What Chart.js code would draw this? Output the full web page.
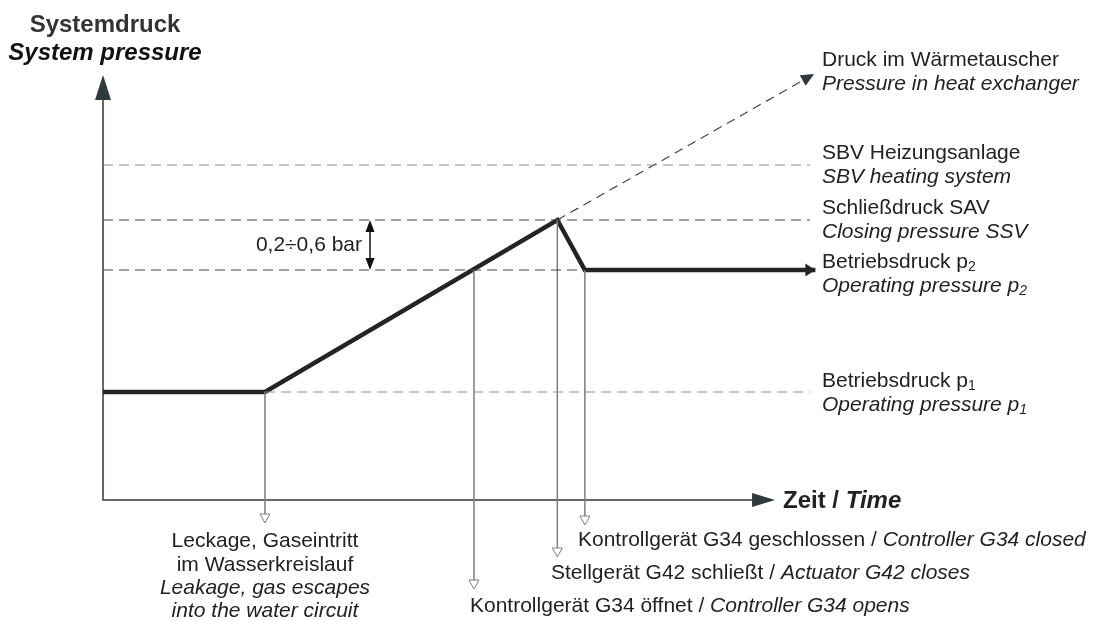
<!DOCTYPE html>
<html>
<head>
<meta charset="utf-8">
<script src="https://cdn.jsdelivr.net/npm/chart.js@4"></script>
<style>
  html, body { margin: 0; padding: 0; background: #fff; }
  canvas { display: block; }
</style>
</head>
<body>
<canvas id="chart" width="1101" height="621"></canvas>
<script>
// schematic values: time in arbitrary units, pressure in arbitrary units
const levelNames = ['SBV', 'Closing', 'p2', 'p1'];
const levelValues = [3.35, 2.8, 2.3, 1.08];
const levelStart = [0, 0, 0, 24.1];
const levelEnd = [105.2, 105.2, 71.7, 105.2];
const levelColors = ['#8c9296', '#3b474e', '#3b474e', '#8c9296'];

const curveTime = [0, 24.1, 67.6, 71.7, 106];
const curvePressure = [1.08, 1.08, 2.8, 2.3, 2.3];

const exchangerTime = [67.6, 105.8];
const exchangerPressure = [2.8, 4.26];

const eventTime = [24.1, 55.2, 67.6, 71.7];
const eventPressure = [1.08, 2.3, 2.8, 2.3];
const eventMarker = [-0.14, -0.8, -0.48, -0.16];

const axisTimeEnd = 100;
const axisPressureEnd = 4.25;

const FONT = '"Liberation Sans", Arial, sans-serif';

const pts = (xs, ys) => xs.map((x, i) => ({ x: x, y: ys[i] }));

const datasets = [];
levelNames.forEach((name, i) => {
    datasets.push({
        label: name,
        data: [{ x: levelStart[i], y: levelValues[i] }, { x: levelEnd[i], y: levelValues[i] }],
        borderColor: levelColors[i],
        borderWidth: 1.2,
        borderDash: [10, 6]
    });
});
datasets.push({
    label: 'exchanger',
    data: pts(exchangerTime, exchangerPressure),
    borderColor: '#3b474e',
    borderWidth: 1.2,
    borderDash: [9, 6]
});
eventTime.forEach((t, i) => {
    datasets.push({
        label: 'event' + i,
        data: [{ x: t, y: eventPressure[i] }, { x: t, y: eventMarker[i] }],
        borderColor: '#7d7d7d',
        borderWidth: 1.5
    });
});
datasets.push({
    label: 'pressure',
    data: pts(curveTime, curvePressure),
    borderColor: '#222526',
    borderWidth: 4.5,
    borderJoinStyle: 'miter'
});
datasets.forEach(d => { d.showLine = true; d.pointRadius = 0; d.fill = false; });

// draw text made of segments (normal, italic, subscript)
function richText(ctx, x, y, segs, align) {
    let total = 0;
    segs.forEach(s => { ctx.font = s.font; total += ctx.measureText(s.text).width; });
    let cx = align === 'center' ? x - total / 2 : (align === 'right' ? x - total : x);
    ctx.textAlign = 'left';
    ctx.textBaseline = 'middle';
    segs.forEach(s => {
        ctx.font = s.font;
        ctx.fillStyle = s.color || '#222';
        ctx.fillText(s.text, cx, y + (s.dy || 0));
        cx += ctx.measureText(s.text).width;
    });
}

const N = '21px ' + FONT;
const I = 'italic 21px ' + FONT;
const SUB = '14px ' + FONT;
const ISUB = 'italic 14px ' + FONT;

function arrowHead(ctx, tipX, tipY, angle, len, half, color) {
    ctx.save();
    ctx.translate(tipX, tipY);
    ctx.rotate(angle);
    ctx.beginPath();
    ctx.moveTo(0, 0);
    ctx.lineTo(-len, -half);
    ctx.lineTo(-len, half);
    ctx.closePath();
    ctx.fillStyle = color;
    ctx.fill();
    ctx.restore();
}

const diagram = {
    id: 'diagram',
    beforeDatasetsDraw(chart) {
        const ctx = chart.ctx;
        const xs = chart.scales.x, ys = chart.scales.y;
        const ox = xs.getPixelForValue(0), oy = ys.getPixelForValue(0);
        const xEnd = xs.getPixelForValue(axisTimeEnd), yEnd = ys.getPixelForValue(axisPressureEnd);
        ctx.save();
        ctx.strokeStyle = '#2f3a3f';
        ctx.lineWidth = 1.5;
        ctx.beginPath();
        ctx.moveTo(ox, yEnd + 10);
        ctx.lineTo(ox, oy);
        ctx.lineTo(xEnd - 10, oy);
        ctx.stroke();
        arrowHead(ctx, ox, yEnd, -Math.PI / 2, 25, 8, '#2f3a3f');
        arrowHead(ctx, xEnd, oy, 0, 23, 7, '#2f3a3f');
        ctx.restore();
    },
    afterDatasetsDraw(chart) {
        const ctx = chart.ctx;
        const xs = chart.scales.x, ys = chart.scales.y;
        ctx.save();

        // arrow at end of operating pressure line
        const n = curveTime.length - 1;
        arrowHead(ctx, xs.getPixelForValue(curveTime[n]), ys.getPixelForValue(curvePressure[n]), 0, 10, 6.5, '#222526');

        // arrow at end of heat exchanger line
        const ax = xs.getPixelForValue(exchangerTime[0]), ay = ys.getPixelForValue(exchangerPressure[0]);
        const bx = xs.getPixelForValue(exchangerTime[1]), by = ys.getPixelForValue(exchangerPressure[1]);
        arrowHead(ctx, bx, by, Math.atan2(by - ay, bx - ax), 13, 6, '#2f3a3f');

        // open triangles below the event lines
        eventTime.forEach((t, i) => {
            const x = xs.getPixelForValue(t), y = ys.getPixelForValue(eventMarker[i]);
            ctx.beginPath();
            ctx.moveTo(x - 5, y);
            ctx.lineTo(x + 5, y);
            ctx.lineTo(x, y + 9);
            ctx.closePath();
            ctx.fillStyle = '#fff';
            ctx.fill();
            ctx.strokeStyle = '#7d7d7d';
            ctx.lineWidth = 1;
            ctx.stroke();
        });

        // double arrow between p2 and closing pressure
        const dx = 370;
        const y1 = ys.getPixelForValue(levelValues[1]), y2 = ys.getPixelForValue(levelValues[2]);
        ctx.strokeStyle = '#111';
        ctx.lineWidth = 1.5;
        ctx.beginPath();
        ctx.moveTo(dx, y1 + 6);
        ctx.lineTo(dx, y2 - 6);
        ctx.stroke();
        arrowHead(ctx, dx, y1, -Math.PI / 2, 12, 4.5, '#111');
        arrowHead(ctx, dx, y2, Math.PI / 2, 12, 4.5, '#111');
        richText(ctx, 362, (y1 + y2) / 2, [{ text: '0,2÷0,6 bar', font: N }], 'right');

        // titles
        richText(ctx, 105, 25, [{ text: 'Systemdruck', font: 'bold 24px ' + FONT, color: '#333' }], 'center');
        richText(ctx, 105, 53, [{ text: 'System pressure', font: 'italic bold 24px ' + FONT, color: '#111' }], 'center');
        richText(ctx, 783, 501, [
            { text: 'Zeit / ', font: 'bold 24px ' + FONT, color: '#222' },
            { text: 'Time', font: 'italic bold 24px ' + FONT, color: '#222' }
        ], 'left');

        // right side labels
        const rx = 822;
        richText(ctx, rx, 60, [{ text: 'Druck im Wärmetauscher', font: N }]);
        richText(ctx, rx, 84, [{ text: 'Pressure in heat exchanger', font: I }]);
        richText(ctx, rx, 153, [{ text: 'SBV Heizungsanlage', font: N }]);
        richText(ctx, rx, 177, [{ text: 'SBV heating system', font: I }]);
        richText(ctx, rx, 208, [{ text: 'Schließdruck SAV', font: N }]);
        richText(ctx, rx, 232, [{ text: 'Closing pressure SSV', font: I }]);
        richText(ctx, rx, 262, [{ text: 'Betriebsdruck p', font: N }, { text: '2', font: SUB, dy: 5 }]);
        richText(ctx, rx, 286, [{ text: 'Operating pressure p', font: I }, { text: '2', font: ISUB, dy: 5 }]);
        richText(ctx, rx, 381, [{ text: 'Betriebsdruck p', font: N }, { text: '1', font: SUB, dy: 5 }]);
        richText(ctx, rx, 405, [{ text: 'Operating pressure p', font: I }, { text: '1', font: ISUB, dy: 5 }]);

        // event labels
        const lx = xs.getPixelForValue(eventTime[0]);
        richText(ctx, lx, 541, [{ text: 'Leckage, Gaseintritt', font: N }], 'center');
        richText(ctx, lx, 565, [{ text: 'im Wasserkreislauf', font: N }], 'center');
        richText(ctx, lx, 588, [{ text: 'Leakage, gas escapes', font: I }], 'center');
        richText(ctx, lx, 611, [{ text: 'into the water circuit', font: I }], 'center');

        richText(ctx, 578, 540, [
            { text: 'Kontrollgerät G34 geschlossen / ', font: N },
            { text: 'Controller G34 closed', font: I }
        ]);
        richText(ctx, 551, 573, [
            { text: 'Stellgerät G42 schließt / ', font: N },
            { text: 'Actuator G42 closes', font: I }
        ]);
        richText(ctx, 470, 606, [
            { text: 'Kontrollgerät G34 öffnet / ', font: N },
            { text: 'Controller G34 opens', font: I }
        ]);
        ctx.restore();
    }
};

new Chart(document.getElementById('chart').getContext('2d'), {
    type: 'scatter',
    data: { datasets: datasets },
    options: {
        responsive: false,
        animation: false,
        layout: { padding: 0 },
        plugins: { legend: { display: false }, tooltip: { enabled: false } },
        scales: {
            x: { type: 'linear', display: false, min: -15.33, max: 148.5 },
            y: { type: 'linear', display: false, min: -1.21, max: 5.0 }
        }
    },
    plugins: [diagram]
});
</script>
</body>
</html>
